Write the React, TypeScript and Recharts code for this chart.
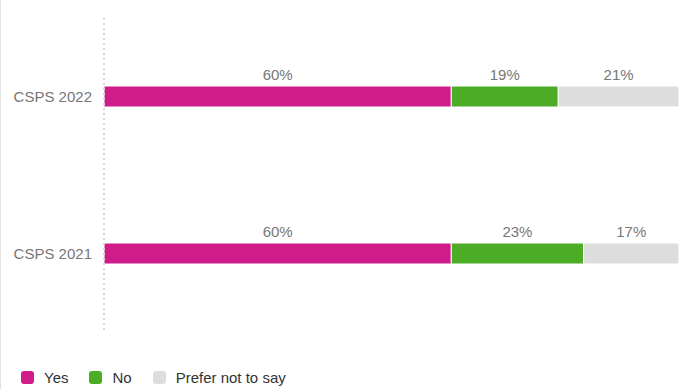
import { BarChart, Bar, XAxis, YAxis, LabelList } from 'recharts';

const YEARS = ['CSPS 2022', 'CSPS 2021'];
const YES = [60.4, 60.4];
const NO = [18.6, 23.0];
const PREFER_NOT = [21.0, 16.6];

const SERIES = [
  { key: 'yes', label: 'Yes', color: '#d01c8b' },
  { key: 'no', label: 'No', color: '#4dac26' },
  { key: 'prefer', label: 'Prefer not to say', color: '#dddddd' },
];

const data = YEARS.map((name, i) => ({ name, yes: YES[i], no: NO[i], prefer: PREFER_NOT[i] }));

const fmt = (v: number) => `${Math.round(v)}%`;

export default function App() {
  return (
    <div
      style={{
        position: 'absolute',
        top: 0,
        left: 0,
        width: 686,
        height: 389,
        overflow: 'hidden',
        borderLeft: '1px solid #e2e2e2',
        boxSizing: 'border-box',
        background: '#fff',
        fontFamily: '"Liberation Sans", Arial, sans-serif',
      }}
    >
      <BarChart
        width={685}
        height={345}
        data={data}
        layout="vertical"
        margin={{ top: 18, right: 7, left: 0, bottom: 13 }}
        barSize={21}
      >
        <XAxis type="number" domain={[0, 100]} hide />
        <YAxis
          type="category"
          dataKey="name"
          width={103}
          tickLine={false}
          tickMargin={6}
          axisLine={{ stroke: '#d8d8d8', strokeDasharray: '2 3', strokeWidth: 2 }}
          tick={{ fontSize: 15, fill: '#777' }}
        />
        {SERIES.map((s, i) => (
          <Bar
            key={s.key}
            dataKey={s.key}
            stackId="a"
            fill={s.color}
            stroke="#fff"
            strokeWidth={1}
            radius={i === SERIES.length - 1 ? [0, 2, 2, 0] : 0}
            isAnimationActive={false}
          >
            <LabelList dataKey={s.key} position="top" offset={6} formatter={fmt} style={{ fontSize: 15, fill: '#777' }} />
          </Bar>
        ))}
      </BarChart>
      <div style={{ display: 'flex', alignItems: 'center', marginTop: 24, marginLeft: 20, fontSize: 15, color: '#333' }}>
        {SERIES.map((s) => (
          <div key={s.key} style={{ display: 'flex', alignItems: 'center', marginRight: 21 }}>
            <span style={{ width: 13, height: 13, borderRadius: 3, background: s.color, display: 'inline-block', marginRight: 10 }} />
            <span>{s.label}</span>
          </div>
        ))}
      </div>
    </div>
  );
}
